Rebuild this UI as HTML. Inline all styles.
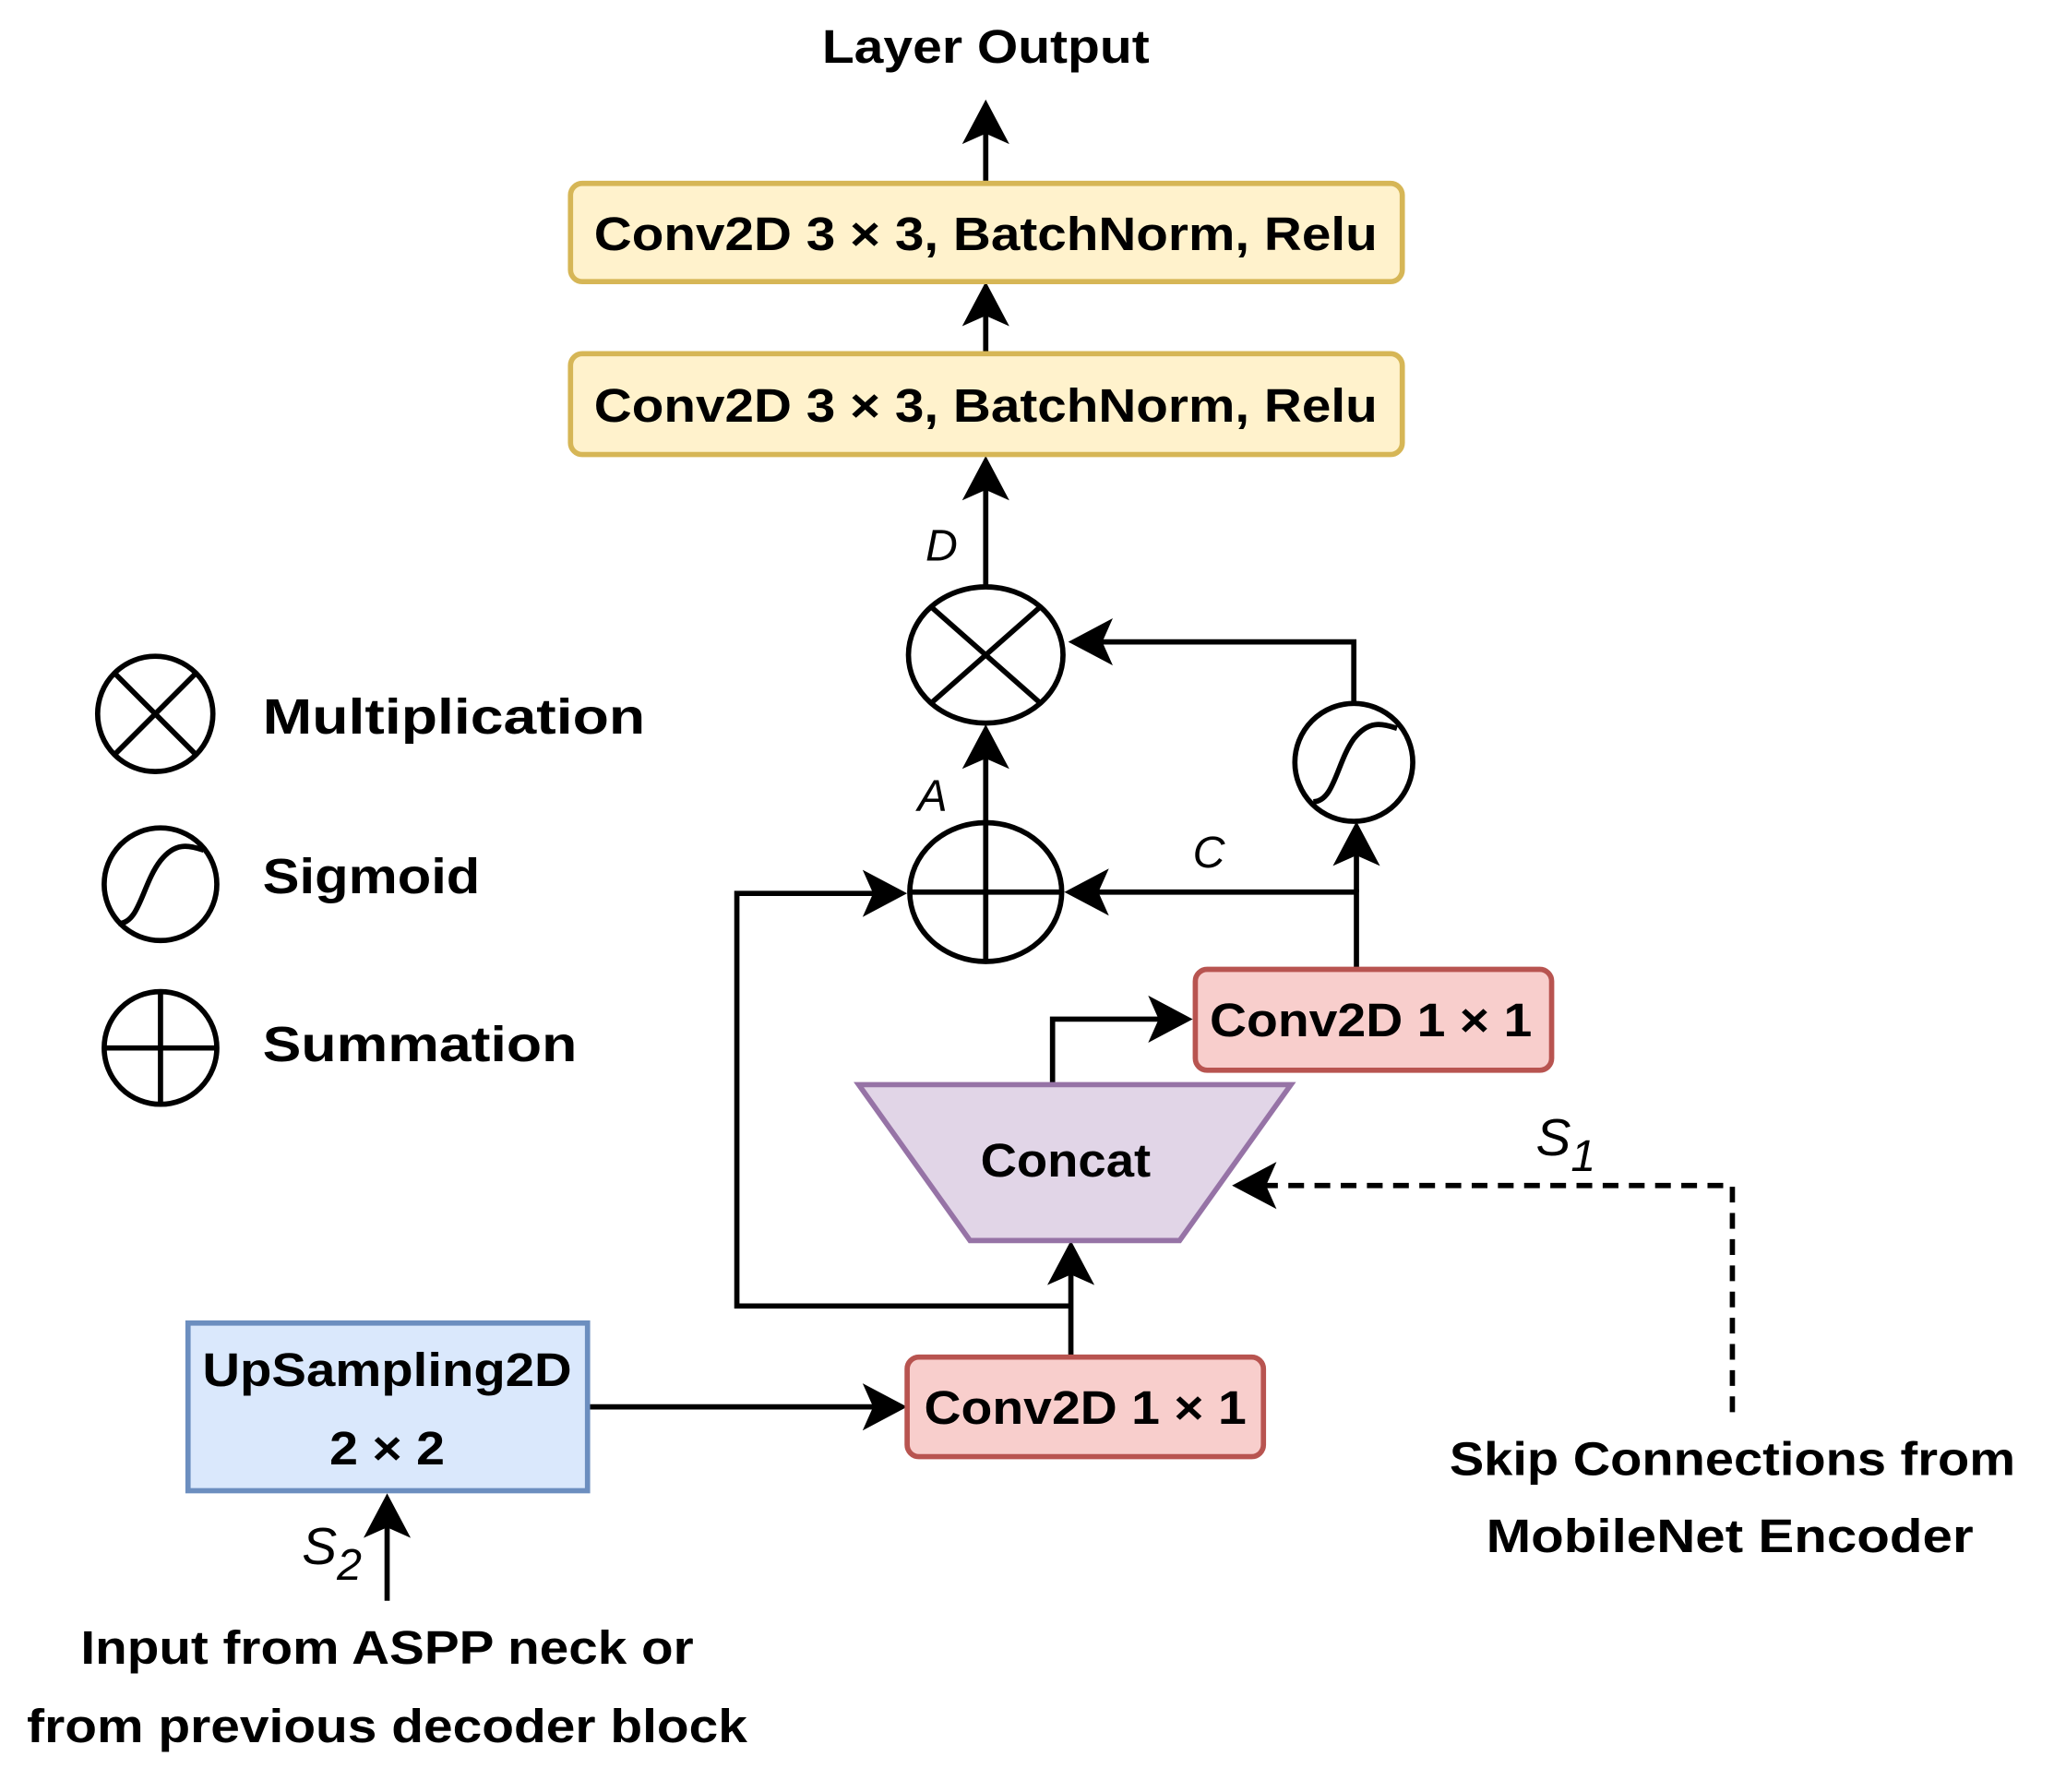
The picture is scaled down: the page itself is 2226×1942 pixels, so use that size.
<!DOCTYPE html>
<html><head><meta charset="utf-8"><style>html,body{margin:0;padding:0;background:#fff}svg{display:block}</style></head>
<body>
<svg width="2226" height="1942" viewBox="0 0 1567 1368" xmlns="http://www.w3.org/2000/svg" font-family="Liberation Sans, sans-serif">
<g stroke="#000" stroke-width="4" fill="none">
<line x1="752" y1="138" x2="752" y2="100"/>
<line x1="752" y1="268" x2="752" y2="235"/>
<line x1="752" y1="448" x2="752" y2="370"/>
<line x1="752" y1="628" x2="752" y2="575"/>
<polyline points="1033,537 1033,490 840,490"/>
<polyline points="1035,740 1035,681 835,681"/>
<line x1="1035" y1="681" x2="1035" y2="650"/>
<polyline points="803,828 803,778 885,778"/>
<polyline points="1322,1078 1322,905 965,905" stroke-dasharray="12,8"/>
<line x1="817" y1="1035" x2="817" y2="970"/>
<polyline points="817,997 562,997 562,682 668,682"/>
<line x1="448" y1="1074" x2="668" y2="1074"/>
<line x1="295" y1="1222" x2="295" y2="1162"/>
</g>
<g fill="#000">
<polygon points="752,76 770,110 752,102 734,110"/>
<polygon points="752,215 770,249 752,241 734,249"/>
<polygon points="752,348 770,382 752,374 734,382"/>
<polygon points="752,553 770,587 752,579 734,587"/>
<polygon points="815,490 849,472 841,490 849,508"/>
<polygon points="812,681 846,663 838,681 846,699"/>
<polygon points="1035,627 1053,661 1035,653 1017,661"/>
<polygon points="910,778 876,760 884,778 876,796"/>
<polygon points="940,905 974,887 966,905 974,923"/>
<polygon points="817,947 835,981 817,973 799,981"/>
<polygon points="692,682 658,664 666,682 658,700"/>
<polygon points="692,1074 658,1056 666,1074 658,1092"/>
<polygon points="295,1140 313,1174 295,1166 277,1174"/>
</g>
<rect x="435" y="140" width="635" height="75" rx="9" fill="#fff2cc" stroke="#d6b656" stroke-width="4"/>
<rect x="435" y="270" width="635" height="77" rx="9" fill="#fff2cc" stroke="#d6b656" stroke-width="4"/>
<rect x="912" y="740" width="272" height="77" rx="9" fill="#f8cecc" stroke="#b85450" stroke-width="4"/>
<rect x="692" y="1036" width="272" height="76" rx="9" fill="#f8cecc" stroke="#b85450" stroke-width="4"/>
<rect x="143" y="1010" width="305" height="128" fill="#dae8fc" stroke="#6c8ebf" stroke-width="4"/>
<polygon points="655,828 985,828 900,947 740,947" fill="#e1d5e7" stroke="#9673a6" stroke-width="4"/>
<g stroke="#000" stroke-width="4" fill="#fff">
<ellipse cx="752" cy="500" rx="59" ry="52"/>
<ellipse cx="752" cy="681" rx="58" ry="53"/>
<circle cx="1033" cy="582" r="45"/>
<circle cx="118" cy="545" r="44"/>
<circle cx="122" cy="675" r="43"/>
<circle cx="122" cy="800" r="43"/>
</g>
<g stroke="#000" stroke-width="4" fill="none">
<line x1="710" y1="463" x2="794" y2="537"/><line x1="794" y1="463" x2="710" y2="537"/>
<line x1="694" y1="681" x2="810" y2="681"/><line x1="752" y1="628" x2="752" y2="734"/>
<line x1="87" y1="514" x2="149" y2="576"/><line x1="149" y1="514" x2="87" y2="576"/>
<path d="M1002,612 C1018,612 1020,582 1033,564 C1044,550 1054,552 1066,556"/>
<path d="M90,705 C106,705 108,675 122,657 C133,643 143,645 155,649"/>
<line x1="79" y1="800" x2="165" y2="800"/><line x1="122" y1="757" x2="122" y2="843"/>
</g>
<g font-weight="bold" font-size="36" fill="#000" text-anchor="middle">
<text x="752" y="48" textLength="250" lengthAdjust="spacingAndGlyphs">Layer Output</text>
<text x="752" y="191" textLength="598" lengthAdjust="spacingAndGlyphs">Conv2D 3 × 3, BatchNorm, Relu</text>
<text x="752" y="322" textLength="598" lengthAdjust="spacingAndGlyphs">Conv2D 3 × 3, BatchNorm, Relu</text>
<text x="1046" y="791" textLength="246" lengthAdjust="spacingAndGlyphs">Conv2D 1 × 1</text>
<text x="828" y="1087" textLength="246" lengthAdjust="spacingAndGlyphs">Conv2D 1 × 1</text>
<text x="813" y="898" textLength="130" lengthAdjust="spacingAndGlyphs">Concat</text>
<text x="295" y="1058" textLength="282" lengthAdjust="spacingAndGlyphs">UpSampling2D</text>
<text x="295" y="1118" textLength="88" lengthAdjust="spacingAndGlyphs">2 × 2</text>
<text x="295" y="1270" textLength="468" lengthAdjust="spacingAndGlyphs">Input from ASPP neck or</text>
<text x="295" y="1330" textLength="550" lengthAdjust="spacingAndGlyphs">from previous decoder block</text>
<text x="1322" y="1126" textLength="432" lengthAdjust="spacingAndGlyphs">Skip Connections from</text>
<text x="1320" y="1185" textLength="372" lengthAdjust="spacingAndGlyphs">MobileNet Encoder</text>
</g>
<g font-weight="bold" font-size="38" fill="#000">
<text x="200" y="560" textLength="292" lengthAdjust="spacingAndGlyphs">Multiplication</text>
<text x="200" y="682" textLength="166" lengthAdjust="spacingAndGlyphs">Sigmoid</text>
<text x="200" y="810" textLength="240" lengthAdjust="spacingAndGlyphs">Summation</text>
</g>
<g font-style="italic" font-size="34" fill="#000">
<text x="706" y="428">D</text>
<text x="700" y="619">A</text>
<text x="910" y="662">C</text>
<text x="1172" y="882" font-size="40">S<tspan font-size="34" dy="12">1</tspan></text>
<text x="230" y="1194" font-size="40">S<tspan font-size="34" dy="12">2</tspan></text>
</g>
</svg>
</body></html>
